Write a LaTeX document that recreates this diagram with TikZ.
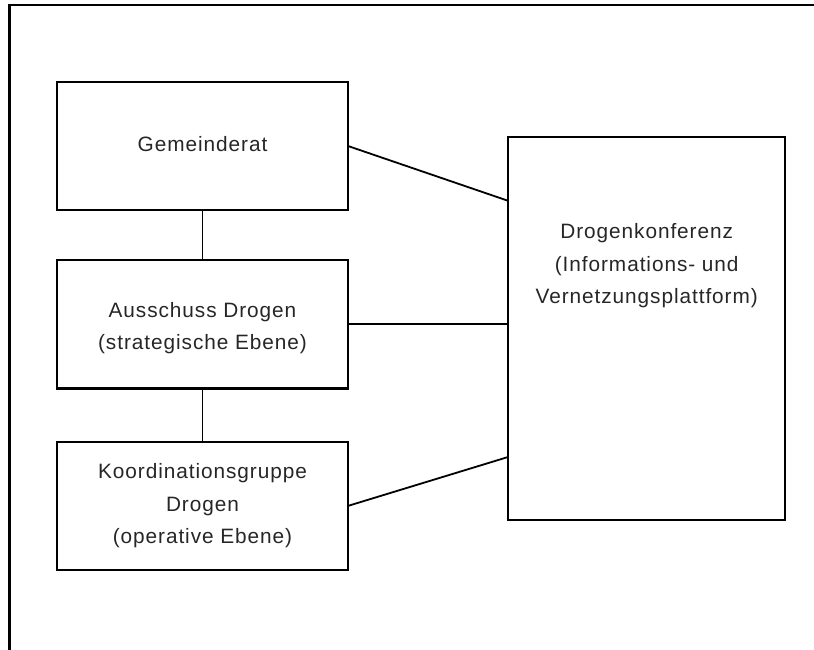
\documentclass[tikz,border=0pt]{standalone}
\usepackage{fontspec}
\setmainfont{Liberation Sans}[LetterSpace=4.5]
\usetikzlibrary{calc}
\begin{document}
\begin{tikzpicture}[x=1pt,y=-1pt,
  box/.style={draw=black,line width=2.1pt,inner sep=0pt,outer sep=0pt},
  lbl/.style={align=center,font=\fontsize{20.8}{32.3}\selectfont,text=black!85,inner sep=0pt},
  conn/.style={draw=black,line width=1.8pt},
  frame/.style={draw=black,line width=2.4pt}]
\useasboundingbox (0,0) rectangle (814,650);
% outer frame (top and left only)
\coordinate (ftr) at (814,5);
\coordinate (ftl) at (9.5,5);
\coordinate (fbl) at (9.5,650);
\draw[frame] (ftr) -- (ftl) -- (fbl);
% boxes
\node[box,minimum width=291pt,minimum height=128.5pt] (gem) at (202.5,146) {};
\node[box,minimum width=291pt,minimum height=128.5pt] (aus) at (202.5,324.2) {};
\node[box,minimum width=291pt,minimum height=128.5pt] (koo) at (202.5,505.9) {};
\node[box,minimum width=276.7pt,minimum height=382.7pt] (drg) at (646.7,328.7) {};
% labels (anchor base = baseline of last line)
\node[lbl,anchor=base] (tgem) at (202.5,151.7) {Gemeinderat};
\node[lbl,anchor=base] (taus) at (202.5,349.3) {Ausschuss Drogen\\(strategische Ebene)};
\node[lbl,anchor=base] (tkoo) at (202.5,543.5) {Koordinationsgruppe\\Drogen\\(operative Ebene)};
\node[lbl,anchor=base] (tdrg) at (646.7,303.5) {Drogenkonferenz\\(Informations- und\\Vernetzungsplattform)};
% connection points on the conference box
\coordinate (d1) at ($(drg.north west)!0.166!(drg.south west)$);
\coordinate (d2) at (drg.west |- aus.east);
\coordinate (d3) at ($(drg.north west)!0.835!(drg.south west)$);
% connectors
\draw[conn] (gem.south) -- (aus.north);
\draw[conn] (aus.south) -- (koo.north);
\draw[conn] (gem.east) -- (d1);
\draw[conn] (aus.east) -- (d2);
\draw[conn] (koo.east) -- (d3);
\end{tikzpicture}
\end{document}
